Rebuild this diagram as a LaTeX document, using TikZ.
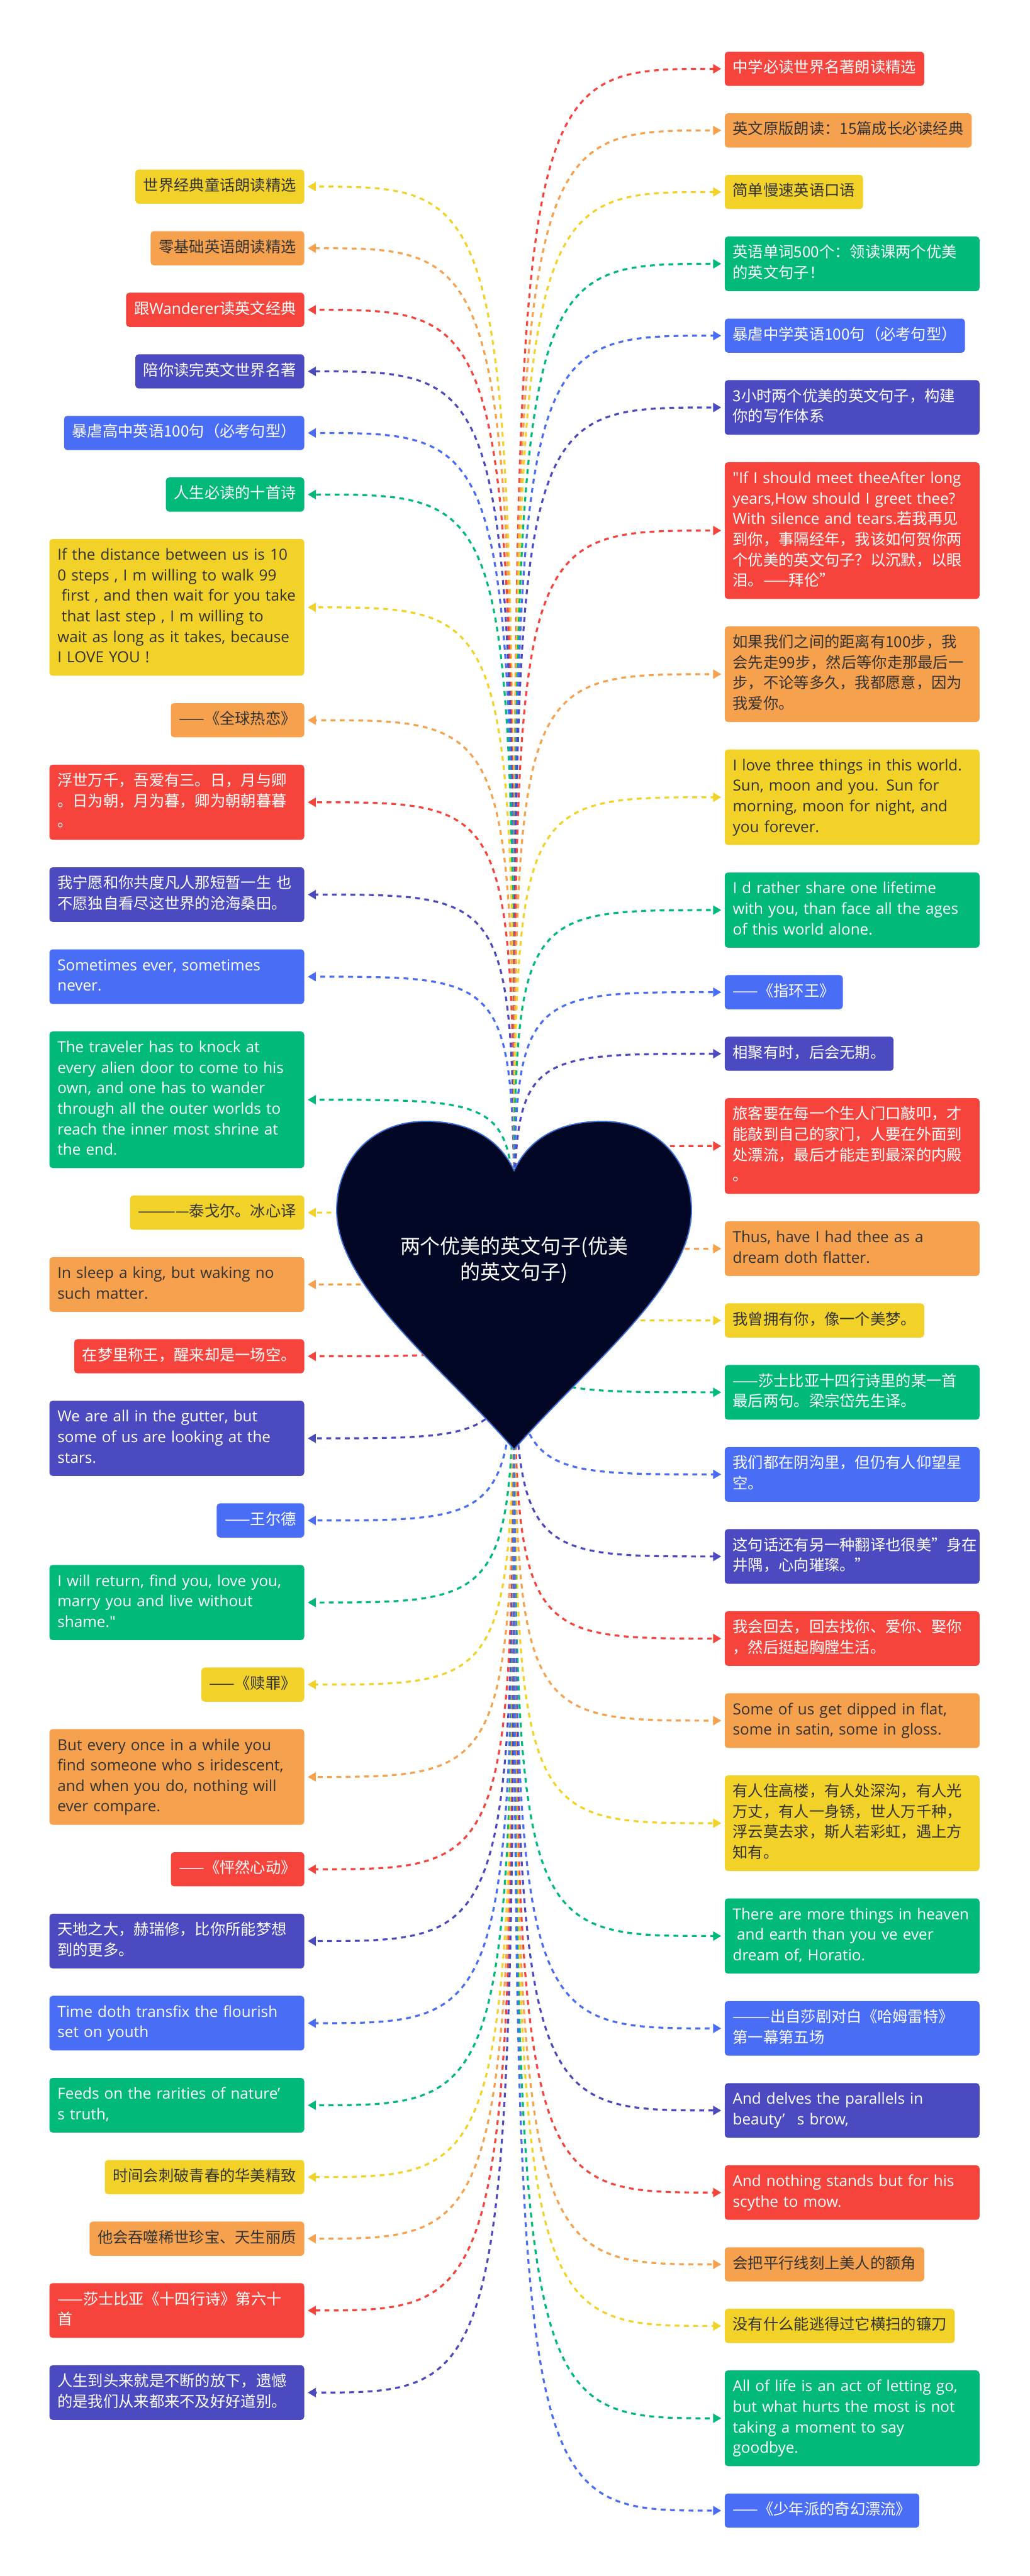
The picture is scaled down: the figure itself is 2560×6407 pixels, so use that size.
\documentclass[tikz,border=0pt]{standalone}
\usepackage{fontspec}
\setmainfont{Noto Sans CJK SC}
\newfontfamily\enfont{Open Sans}
\usetikzlibrary{positioning,arrows.meta}
\definecolor{leafyellow}{HTML}{F2D228}
\definecolor{leaforange}{HTML}{F5A14E}
\definecolor{leafred}{HTML}{F6443D}
\definecolor{leafindigo}{HTML}{4C4AC0}
\definecolor{leafblue}{HTML}{4A6DF5}
\definecolor{leafgreen}{HTML}{01B978}
\definecolor{darktext}{HTML}{333333}
\definecolor{heartfill}{HTML}{030726}
\definecolor{heartline}{HTML}{3D6FD6}
\begin{document}
\begin{tikzpicture}[x=0.01cm, y=-0.01cm, node distance=0.667cm,
  leaf/.style={rectangle, rounded corners=0.08cm, inner xsep=0.2cm, inner ysep=0.17cm, align=left,
    font=\fontsize{10.8pt}{14.5pt}\selectfont, execute at begin node=\strut, execute at end node=\strut},
  wide/.style={text width=5.93cm},
  en/.style={font=\fontsize{10.8pt}{14.5pt}\selectfont\enfont},
  yellow leaf/.style={leaf, fill=leafyellow, text=darktext},
  orange leaf/.style={leaf, fill=leaforange, text=darktext},
  red leaf/.style={leaf, fill=leafred, text=white},
  indigo leaf/.style={leaf, fill=leafindigo, text=white},
  blue leaf/.style={leaf, fill=leafblue, text=white},
  green leaf/.style={leaf, fill=leafgreen, text=white},
  link/.style={draw=#1, dash pattern=on 0.12cm off 0.11cm, line width=0.05cm,
    -{Triangle[length=0.2cm, width=0.22cm]}, shorten >=0.08cm}]
\useasboundingbox (0,0) rectangle (2560,6407);
\fill[white] (0,0) rectangle (2560,6407);
\coordinate (root) at (1278,3134);

% left column
\node[yellow leaf, anchor=north east] (L1) at (757,421) {世界经典童话朗读精选};
\node[orange leaf, below=of L1.south east, anchor=north east] (L2) {零基础英语朗读精选};
\node[red leaf, below=of L2.south east, anchor=north east] (L3) {跟{\enfont Wanderer}读英文经典};
\node[indigo leaf, below=of L3.south east, anchor=north east] (L4) {陪你读完英文世界名著};
\node[blue leaf, below=of L4.south east, anchor=north east] (L5) {暴虐高中英语100句（必考句型）};
\node[green leaf, below=of L5.south east, anchor=north east] (L6) {人生必读的十首诗};
\node[yellow leaf, wide, en, below=of L6.south east, anchor=north east] (L7) {If the distance between us is 10\\0 steps , I m willing to walk 99\\\hspace*{0.27em}first , and then wait for you take\\\hspace*{0.27em}that last step , I m willing to\\wait as long as it takes, because\\I LOVE YOU !};
\node[orange leaf, below=of L7.south east, anchor=north east] (L8) {——《全球热恋》};
\node[red leaf, wide, below=of L8.south east, anchor=north east] (L9) {浮世万千，吾爱有三。日，月与卿\\。日为朝，月为暮，卿为朝朝暮暮\\。};
\node[indigo leaf, wide, below=of L9.south east, anchor=north east] (L10) {我宁愿和你共度凡人那短暂一生 也\\不愿独自看尽这世界的沧海桑田。};
\node[blue leaf, wide, en, below=of L10.south east, anchor=north east] (L11) {Sometimes ever, sometimes\\never.};
\node[green leaf, wide, en, below=of L11.south east, anchor=north east] (L12) {The traveler has to knock at\\every alien door to come to his\\own, and one has to wander\\through all the outer worlds to\\reach the inner most shrine at\\the end.};
\node[yellow leaf, below=of L12.south east, anchor=north east] (L13) {————泰戈尔。冰心译};
\node[orange leaf, wide, en, below=of L13.south east, anchor=north east] (L14) {In sleep a king, but waking no\\such matter.};
\node[red leaf, below=of L14.south east, anchor=north east] (L15) {在梦里称王，醒来却是一场空。};
\node[indigo leaf, wide, en, below=of L15.south east, anchor=north east] (L16) {We are all in the gutter, but\\some of us are looking at the\\stars.};
\node[blue leaf, below=of L16.south east, anchor=north east] (L17) {——王尔德};
\node[green leaf, wide, en, below=of L17.south east, anchor=north east] (L18) {I will return, find you, love you,\\marry you and live without\\shame."};
\node[yellow leaf, below=of L18.south east, anchor=north east] (L19) {——《赎罪》};
\node[orange leaf, wide, en, below=of L19.south east, anchor=north east] (L20) {But every once in a while you\\find someone who s iridescent,\\and when you do, nothing will\\ever compare.};
\node[red leaf, below=of L20.south east, anchor=north east] (L21) {——《怦然心动》};
\node[indigo leaf, wide, below=of L21.south east, anchor=north east] (L22) {天地之大，赫瑞修，比你所能梦想\\到的更多。};
\node[blue leaf, wide, en, below=of L22.south east, anchor=north east] (L23) {Time doth transfix the flourish\\set on youth};
\node[green leaf, wide, en, below=of L23.south east, anchor=north east] (L24) {Feeds on the rarities of nature’\\s truth,};
\node[yellow leaf, below=of L24.south east, anchor=north east] (L25) {时间会刺破青春的华美精致};
\node[orange leaf, below=of L25.south east, anchor=north east] (L26) {他会吞噬稀世珍宝、天生丽质};
\node[red leaf, wide, below=of L26.south east, anchor=north east] (L27) {——莎士比亚《十四行诗》第六十\\首};
\node[indigo leaf, wide, below=of L27.south east, anchor=north east] (L28) {人生到头来就是不断的放下，遗憾\\的是我们从来都来不及好好道别。};

% right column
\node[red leaf, anchor=north west] (R1) at (1801,128) {中学必读世界名著朗读精选};
\node[orange leaf, below=of R1.south west, anchor=north west] (R2) {英文原版朗读：15篇成长必读经典};
\node[yellow leaf, below=of R2.south west, anchor=north west] (R3) {简单慢速英语口语};
\node[green leaf, wide, below=of R3.south west, anchor=north west] (R4) {英语单词500个：领读课两个优美\\的英文句子！};
\node[blue leaf, below=of R4.south west, anchor=north west] (R5) {暴虐中学英语100句（必考句型）};
\node[indigo leaf, wide, below=of R5.south west, anchor=north west] (R6) {3小时两个优美的英文句子，构建\\你的写作体系};
\node[red leaf, wide, below=of R6.south west, anchor=north west] (R7) {{\enfont "If I should meet theeAfter long}\\{\enfont years,How should I greet thee?}\\{\enfont With silence and tears.}若我再见\\到你，事隔经年，我该如何贺你两\\个优美的英文句子？以沉默，以眼\\泪。——拜伦"};
\node[orange leaf, wide, below=of R7.south west, anchor=north west] (R8) {如果我们之间的距离有100步，我\\会先走99步，然后等你走那最后一\\步，不论等多久，我都愿意，因为\\我爱你。};
\node[yellow leaf, wide, en, below=of R8.south west, anchor=north west] (R9) {I love three things in this world.\\Sun, moon and you. Sun for\\morning, moon for night, and\\you forever.};
\node[green leaf, wide, en, below=of R9.south west, anchor=north west] (R10) {I d rather share one lifetime\\with you, than face all the ages\\of this world alone.};
\node[blue leaf, below=of R10.south west, anchor=north west] (R11) {——《指环王》};
\node[indigo leaf, below=of R11.south west, anchor=north west] (R12) {相聚有时，后会无期。};
\node[red leaf, wide, below=of R12.south west, anchor=north west] (R13) {旅客要在每一个生人门口敲叩，才\\能敲到自己的家门，人要在外面到\\处漂流，最后才能走到最深的内殿\\。};
\node[orange leaf, wide, en, below=of R13.south west, anchor=north west] (R14) {Thus, have I had thee as a\\dream doth flatter.};
\node[yellow leaf, below=of R14.south west, anchor=north west] (R15) {我曾拥有你，像一个美梦。};
\node[green leaf, wide, below=of R15.south west, anchor=north west] (R16) {——莎士比亚十四行诗里的某一首\\最后两句。梁宗岱先生译。};
\node[blue leaf, wide, below=of R16.south west, anchor=north west] (R17) {我们都在阴沟里，但仍有人仰望星\\空。};
\node[indigo leaf, wide, below=of R17.south west, anchor=north west] (R18) {这句话还有另一种翻译也很美"身在\\井隅，心向璀璨。"};
\node[red leaf, wide, below=of R18.south west, anchor=north west] (R19) {我会回去，回去找你、爱你、娶你\\，然后挺起胸膛生活。};
\node[orange leaf, wide, en, below=of R19.south west, anchor=north west] (R20) {Some of us get dipped in flat,\\some in satin, some in gloss.};
\node[yellow leaf, wide, below=of R20.south west, anchor=north west] (R21) {有人住高楼，有人处深沟，有人光\\万丈，有人一身锈，世人万千种，\\浮云莫去求，斯人若彩虹，遇上方\\知有。};
\node[green leaf, wide, en, below=of R21.south west, anchor=north west] (R22) {There are more things in heaven\\\hspace*{0.27em}and earth than you ve ever\\dream of, Horatio.};
\node[blue leaf, wide, below=of R22.south west, anchor=north west] (R23) {———出自莎剧对白《哈姆雷特》\\第一幕第五场};
\node[indigo leaf, wide, en, below=of R23.south west, anchor=north west] (R24) {And delves the parallels in\\beauty’\hspace{0.8em}s brow,};
\node[red leaf, wide, en, below=of R24.south west, anchor=north west] (R25) {And nothing stands but for his\\scythe to mow.};
\node[orange leaf, below=of R25.south west, anchor=north west] (R26) {会把平行线刻上美人的额角};
\node[yellow leaf, below=of R26.south west, anchor=north west] (R27) {没有什么能逃得过它横扫的镰刀};
\node[green leaf, wide, en, below=of R27.south west, anchor=north west] (R28) {All of life is an act of letting go,\\but what hurts the most is not\\taking a moment to say\\goodbye.};
\node[blue leaf, below=of R28.south west, anchor=north west] (R29) {——《少年派的奇幻漂流》};

% dashed links from the heart
\foreach \n/\c in {L1/leafyellow, L2/leaforange, L3/leafred, L4/leafindigo, L5/leafblue, L6/leafgreen,
  L7/leafyellow, L8/leaforange, L9/leafred, L10/leafindigo, L11/leafblue, L12/leafgreen,
  L13/leafyellow, L14/leaforange, L15/leafred, L16/leafindigo, L17/leafblue, L18/leafgreen,
  L19/leafyellow, L20/leaforange, L21/leafred, L22/leafindigo, L23/leafblue, L24/leafgreen,
  L25/leafyellow, L26/leaforange, L27/leafred, L28/leafindigo}
  \draw[link=\c] (root) .. controls (root |- \n.east) .. (\n.east);
\foreach \n/\c in {R1/leafred, R2/leaforange, R3/leafyellow, R4/leafgreen, R5/leafblue, R6/leafindigo,
  R7/leafred, R8/leaforange, R9/leafyellow, R10/leafgreen, R11/leafblue, R12/leafindigo,
  R13/leafred, R14/leaforange, R15/leafyellow, R16/leafgreen, R17/leafblue, R18/leafindigo,
  R19/leafred, R20/leaforange, R21/leafyellow, R22/leafgreen, R23/leafblue, R24/leafindigo,
  R25/leafred, R26/leaforange, R27/leafyellow, R28/leafgreen, R29/leafblue}
  \draw[link=\c] (root) .. controls (root |- \n.west) .. (\n.west);

% heart
\filldraw[fill=heartfill, draw=heartline, line width=0.03cm]
  (1278,2911) .. controls (1235,2820) and (1150,2789) .. (1058,2789)
  .. controls (920,2789) and (837,2890) .. (837,3010)
  .. controls (837,3200) and (1100,3400) .. (1278,3605)
  .. controls (1456,3400) and (1719,3200) .. (1719,3010)
  .. controls (1719,2890) and (1636,2789) .. (1498,2789)
  .. controls (1406,2789) and (1321,2820) .. (1278,2911) -- cycle;
\node[font=\fontsize{14.2pt}{18.5pt}\selectfont, text=white, align=center] (title) at (root) {两个优美的英文句子(优美\\的英文句子)};
\end{tikzpicture}
\end{document}
